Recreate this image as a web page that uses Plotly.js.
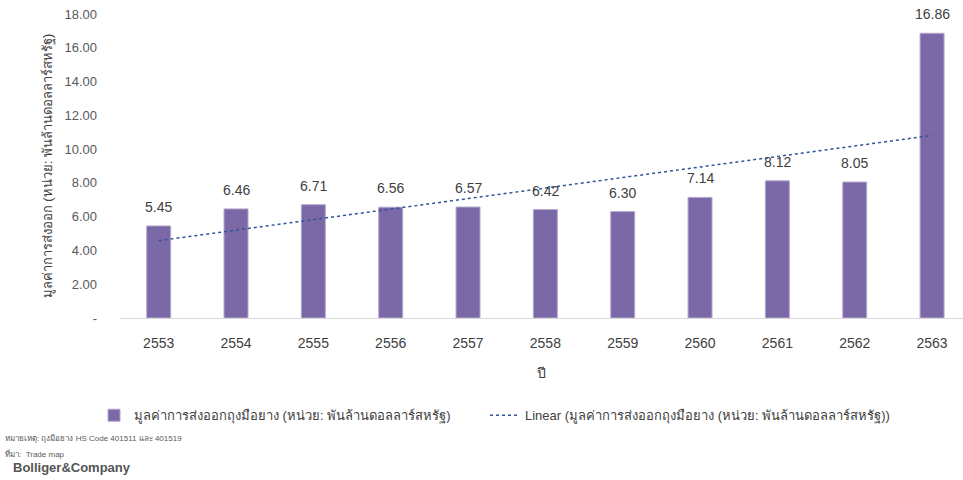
<!DOCTYPE html>
<html>
<head>
<meta charset="utf-8">
<script src="https://cdn.plot.ly/plotly-3.0.1.min.js"></script>
<style>html,body{margin:0;padding:0;background:#fff;}#chart{width:963px;height:480px;}</style>
</head>
<body>
<div id="chart"></div>
<script>
var years = ['2553','2554','2555','2556','2557','2558','2559','2560','2561','2562','2563'];
var exportValues = [5.45, 6.46, 6.71, 6.56, 6.57, 6.42, 6.30, 7.14, 8.12, 8.05, 16.86];
var trendYears = ['2553', '2563'];
var trendValues = [4.58, 10.81];
var yTickVals = [0, 2, 4, 6, 8, 10, 12, 14, 16, 18];
var yTickText = ['-', '2.00', '4.00', '6.00', '8.00', '10.00', '12.00', '14.00', '16.00', '18.00'];
var seriesName = 'มูลค่าการส่งออกถุงมือยาง (หน่วย: พันล้านดอลลาร์สหรัฐ)';
var trendName = 'Linear (มูลค่าการส่งออกถุงมือยาง (หน่วย: พันล้านดอลลาร์สหรัฐ))';
var yTitle = 'มูลค่าการส่งออก (หน่วย: พันล้านดอลลาร์สหรัฐ)';
var xTitle = 'ปี';
var note1 = 'หมายเหตุ: ถุงมือยาง HS Code 401511 และ 401519';
var note2 = 'ที่มา:  Trade map';
var brand = 'Bolliger&Company';

var FONT = 'Liberation Sans, Arial, sans-serif';

var bars = {
  type: 'bar', x: years, y: exportValues, name: seriesName,
  marker: {color: '#7b68a6', line: {color: '#b3a8cf', width: 1}},
  width: 0.31, hoverinfo: 'x+y', legend: 'legend'
};
var trend = {
  type: 'scatter', mode: 'lines', x: trendYears, y: trendValues, name: trendName,
  line: {color: '#2f5597', width: 1.5, dash: 'dot'}, legend: 'legend2'
};

var annotations = years.map(function(yr, i) {
  return {x: i, y: exportValues[i], xref: 'x', yref: 'y', text: exportValues[i].toFixed(2),
    showarrow: false, yanchor: 'bottom', yshift: 9, font: {size: 14, color: '#404040', family: FONT}};
});
var W = 843;
function px(p) { return (p - 120) / W; }
annotations.push({xref: 'paper', yref: 'paper', x: px(3), y: -0.395, xanchor: 'left', yanchor: 'middle', text: note1, showarrow: false, font: {size: 8, color: '#595959', family: FONT}});
annotations.push({xref: 'paper', yref: 'paper', x: px(3), y: -0.445, xanchor: 'left', yanchor: 'middle', text: note2, showarrow: false, font: {size: 8, color: '#595959', family: FONT}});
annotations.push({xref: 'paper', yref: 'paper', x: px(11), y: -0.493, xanchor: 'left', yanchor: 'middle', text: '<b>' + brand + '</b>', showarrow: false, font: {size: 13, color: '#555555', family: FONT}});

var layout = {
  width: 963, height: 480,
  margin: {l: 120, r: 0, t: 14, b: 162},
  paper_bgcolor: '#ffffff', plot_bgcolor: '#ffffff',
  font: {family: FONT, color: '#595959'},
  showlegend: true,
  xaxis: {
    type: 'category', range: [-0.5, 10.4],
    showgrid: false, showline: true, linecolor: '#d9d9d9', linewidth: 1,
    ticks: '', tickfont: {size: 14, color: '#404040'},
    ticklabelstandoff: 12,
    title: {text: xTitle, font: {size: 14, color: '#404040'}, standoff: 18}
  },
  yaxis: {
    range: [0, 18], tickvals: yTickVals, ticktext: yTickText,
    showgrid: false, zeroline: false, showline: false, ticks: '',
    tickfont: {size: 13, color: '#595959'},
    ticklabelstandoff: 22,
    title: {text: yTitle, font: {size: 13, color: '#404040'}, standoff: 8}
  },
  legend: {orientation: 'h', x: px(94), y: -0.32, xanchor: 'left', yanchor: 'middle', font: {size: 13, color: '#404040'}, bgcolor: 'rgba(0,0,0,0)'},
  legend2: {orientation: 'h', x: px(485), y: -0.32, xanchor: 'left', yanchor: 'middle', font: {size: 13, color: '#404040'}, bgcolor: 'rgba(0,0,0,0)'},
  annotations: annotations,
  bargap: 0.69
};

Plotly.newPlot('chart', [bars, trend], layout, {displayModeBar: false, staticPlot: true});
</script>
</body>
</html>
